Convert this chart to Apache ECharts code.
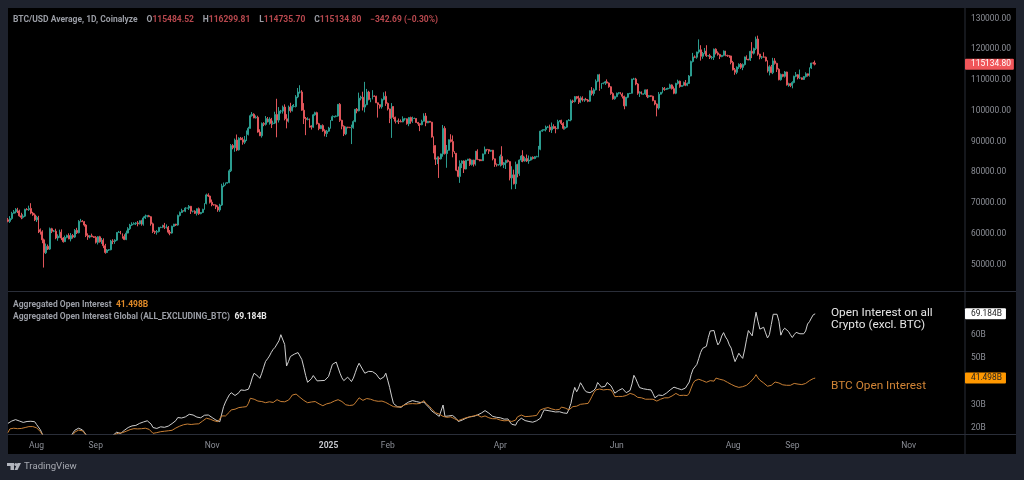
<!DOCTYPE html>
<html>
  <head>
    <meta charset="utf-8" />
    <title>BTC/USD and Aggregated Open Interest</title>
    <script src="https://cdn.jsdelivr.net/npm/echarts@6/dist/echarts.min.js"></script>
    <style>
      html, body { margin: 0; padding: 0; background: #1e222d; }
    </style>
  </head>
  <body>
    <div id="main" style="width: 1024px; height: 480px"></div>
    <script type="text/javascript">
      // daily bars, Jul 17 2024 onward, one row per month. prices in thousands of USD
      var firstDay = "2024-07-17";
      var emptyDays = 78; // room on the right of the last bar
      var firstOpen = 64.6;
      var closes = [
        64.1,65.0,66.7,67.2,68.0,67.5,65.9,65.4,65.8,68.0,67.9,68.3,66.8,66.2,64.6,
        65.4,61.4,60.7,58.1,53.9,56.0,55.1,61.7,60.9,60.9,58.7,59.3,60.6,58.7,57.5,58.9,59.5,58.4,59.5,59.0,61.2,60.4,64.1,64.2,64.0,62.9,59.5,59.0,59.4,59.1,58.9,
        57.3,59.1,57.5,58.0,56.2,54.0,54.8,54.9,57.7,57.6,58.0,60.5,60.6,60.0,59.2,58.2,60.3,61.7,62.9,63.2,63.4,63.6,63.3,64.3,63.2,65.2,65.8,65.9,65.6,63.3,
        60.8,60.6,60.8,62.1,62.1,62.8,62.2,62.2,60.6,60.3,62.5,63.2,62.9,66.0,67.0,67.6,67.4,68.4,68.4,69.0,67.4,67.4,66.7,68.2,66.6,67.0,68.0,69.9,72.7,72.3,70.3,
        69.5,69.4,68.8,67.8,69.4,75.6,75.9,76.5,76.7,80.5,88.7,88.0,90.5,87.3,91.1,90.6,89.8,90.5,92.3,94.3,98.4,98.9,97.7,97.9,93.1,91.9,95.9,95.6,97.5,96.4,
        97.3,95.9,96.0,98.8,97.0,99.9,99.9,101.2,97.4,96.6,101.2,100.0,101.4,101.4,104.5,106.1,106.1,100.2,97.5,97.2,97.3,95.1,94.7,98.7,99.4,95.8,94.2,95.2,93.5,92.6,93.4,
        94.4,96.9,98.1,98.2,98.3,102.1,96.9,95.0,92.5,94.7,94.6,94.5,94.5,96.5,100.5,100.0,104.1,104.4,101.2,102.0,106.1,103.7,103.9,104.8,104.7,102.6,102.0,101.3,103.7,104.7,102.4,
        100.6,97.5,101.4,97.9,96.6,96.6,96.5,96.4,97.4,97.4,95.8,97.8,96.6,97.5,97.5,96.2,95.8,95.5,96.6,98.3,96.1,96.6,96.3,91.5,88.7,84.3,84.7,84.4,
        86.0,94.3,86.1,87.2,90.6,90.0,86.8,86.2,80.7,78.7,82.9,83.7,81.1,83.9,84.3,82.6,84.0,82.7,86.9,84.2,84.1,83.8,86.0,87.5,87.4,86.9,87.2,84.4,82.6,82.4,82.5,
        85.2,82.5,83.1,83.9,83.5,78.2,79.2,76.3,82.6,79.6,84.0,85.3,83.7,84.5,83.7,84.0,84.9,84.5,85.1,85.1,87.5,93.4,93.7,93.9,94.7,94.7,93.8,94.9,94.3,94.2,
        96.5,96.9,95.9,94.3,94.7,96.8,97.0,103.2,103.0,104.6,104.1,102.8,104.2,103.5,103.7,103.5,103.1,106.5,105.6,106.8,109.6,111.7,107.3,108.9,109.0,109.4,109.0,107.8,105.6,103.9,104.6,
        105.7,105.9,105.4,104.7,101.6,104.4,105.6,105.7,110.3,110.3,108.7,105.7,106.1,105.4,105.5,106.8,104.6,104.9,104.7,103.3,102.2,100.9,105.4,106.0,107.3,106.9,107.1,107.3,108.4,107.2,
        105.7,108.9,109.6,107.9,108.2,109.2,108.3,108.9,111.3,116.0,117.5,117.4,119.1,119.8,117.7,118.6,119.4,117.9,117.9,117.3,117.4,120.0,118.8,118.3,117.6,118.0,119.4,118.0,117.9,117.8,115.7,
        113.3,112.5,114.2,115.1,114.1,115.0,117.5,116.7,116.5,119.3,118.7,120.2,123.3,118.4,117.4,117.5,117.4,116.2,112.9,114.3,112.4,116.2,115.4,113.5,110.1,111.8,111.2,112.6,108.4,108.8,108.2,
        109.2,111.2,111.7,110.7,110.7,110.2,111.1,112.0,111.5,113.9,115.5,115.48452,115.1348
      ];
      // wick length above the body
      var upperWicks = [
        .6,.8,.5,.6,.4,.5,.4,1.0,.6,.2,.4,.9,1.7,.4,.5,
        .5,.5,.4,.5,.4,.9,.6,.4,.3,.4,.8,.6,.8,.9,.3,.6,.3,.7,.8,.5,.4,.8,.4,.7,.3,.2,.3,.7,.2,.7,.2,
        .4,.2,.3,.7,.6,.6,.3,.2,.4,.6,.3,.1,.4,.4,.2,.7,.8,.5,.4,.6,.4,.3,.6,.1,.3,.5,.5,.2,.3,.2,
        .4,.3,.5,.2,.3,.2,.8,.9,.4,.7,.2,.1,.1,.3,.3,.6,.1,.3,.1,.4,.1,.1,.3,.1,.4,.1,.2,.1,.4,.5,.2,
        .9,.2,.2,.5,.4,.7,.8,.2,.1,.5,.5,.5,.5,1.8,.3,.4,.8,1.3,1.3,.5,.4,.7,.3,.6,.5,.9,.3,.4,.8,.5,
        .6,.4,.8,.9,5.1,1.3,.4,.5,.9,1.5,.5,1.4,.5,.8,.6,1.3,2.2,.6,2.3,.5,.6,.2,.2,.3,.3,.3,.3,.2,.4,.5,.4,
        .4,.1,.4,.1,.2,.1,.4,.2,.3,.2,.1,.2,1.0,.4,.1,.4,1.8,.5,1.8,7.4,1.0,.4,.2,1.9,.2,.2,.1,.1,.3,1.3,1.6,
        .3,.1,1.1,.1,.2,.3,.9,.7,.8,.3,.1,.2,.3,.6,.3,.1,.2,.1,.5,.9,1.0,.1,.1,.1,.2,.1,.5,.5,
        .1,1.1,.7,1.7,.1,1.8,2.0,.1,.1,1.2,1.0,.2,.2,.2,.1,.2,.1,.1,.1,.6,.1,.1,.1,.9,.1,.1,.1,.1,.1,.3,.2,
        .6,3.3,.3,.2,.3,.1,2.8,1.7,.9,.2,.2,.3,1.9,.6,1.3,1.5,.2,.3,.2,.3,1.1,.1,.3,.1,.5,.4,.8,1.3,.7,.7,
        .6,.1,.2,.4,.3,.1,.3,.5,.4,.2,.2,.8,.5,.5,.2,.5,.3,.1,1.2,.5,.6,.1,.3,.1,.2,.3,.8,.2,.2,.4,.3,
        .2,.2,.2,.5,.2,.1,.1,.1,.1,.4,.4,.3,.2,.2,.1,.1,.2,.2,.1,.2,.1,.2,.7,.1,.4,.4,.3,.2,.4,.2,
        .7,.2,.5,.2,.1,.3,.8,.3,.3,.3,1.3,.5,.1,3.4,1.5,.5,1.0,1.9,.2,.6,.4,.2,.3,.5,.2,.1,.2,.1,.2,.1,.1,
        .5,.6,.2,.3,.4,.4,.1,.5,.2,.2,3.0,.3,.8,1.1,.1,.3,1.5,.2,.2,.5,.6,1.0,.9,.2,.3,.3,.2,.3,.1,.3,.2,
        .4,.2,.9,.2,2.7,.1,.2,.5,.1,.2,.1,.3,.82
      ];
      // wick length below the body
      var lowerWicks = [
        .3,.5,.4,.1,.5,.7,.3,.6,.4,.3,.2,.4,.4,.3,.4,
        .7,1.1,.9,1.1,4.8,.4,.3,.3,.6,.3,.4,.9,.5,.7,.3,.1,.3,.1,.8,.5,.3,.4,.2,.3,.1,.5,.5,.9,.4,.1,.2,
        .4,.7,.3,.7,.8,.4,.2,.3,.2,.9,.8,.3,.1,.1,.7,.2,.2,.1,.4,.3,.1,.5,.8,.2,.5,.5,.3,.4,.1,.6,
        .5,.6,.8,.3,.2,.2,.6,.4,.5,.7,.2,.2,.3,.2,.3,.2,.1,.3,.1,.6,.9,.4,.2,.7,.4,.2,.2,.1,.3,.3,.4,
        .5,.2,.7,.6,.6,.3,.4,.1,.1,.2,.4,.5,1.3,.4,.2,.1,.8,.6,.3,.3,.1,.3,.1,.2,.2,.1,.6,.6,.4,.2,
        .9,1.5,.4,.3,5.6,.8,.8,.8,.5,2.3,.4,.6,.2,.3,.3,.4,.5,.2,1.8,5.1,.3,.6,.8,.2,.3,.3,.5,.1,.3,.9,1.1,
        .2,.2,.2,.3,.3,.2,.5,1.0,.7,.4,.3,.1,5.3,.3,.2,.8,.2,.7,1.1,1.7,.2,.3,.9,.2,.2,.1,4.2,.6,.6,.3,.8,
        .5,1.5,6.3,.6,.7,.3,.8,.1,.1,.6,.3,.8,.8,.5,.1,.1,.7,2.1,.2,.1,1.1,.1,.1,.2,2.5,1.9,1.6,6.2,
        .2,.9,.3,4.6,.1,.3,1.9,.2,.3,.3,2.1,1.5,1.3,.1,.1,.5,.4,.8,.5,.2,.5,.1,.1,.1,.6,.9,.2,.5,.8,.5,.2,
        .6,.3,1.1,2.0,.3,.8,3.7,.2,1.7,1.2,.7,.6,.4,.2,.3,.9,.2,.3,.2,.2,.2,.3,.2,.1,.6,.3,.7,1.0,.2,1.5,
        .2,.2,.5,.4,.4,.3,.1,.4,.5,.3,.4,.6,.3,.5,.6,.1,.3,.2,.6,.7,.2,.3,.8,.2,.3,.6,.1,.3,.4,.3,.3,
        .2,.4,.1,.7,1.1,.1,.3,.2,.1,.2,.4,.5,1.2,.1,.2,.3,.5,.3,.2,.2,.4,2.7,.5,.1,.3,.4,.1,.2,.1,.3,
        .3,.3,.4,.4,.1,.2,.3,.3,.2,.1,.3,.3,.5,.5,1.4,.8,.2,.4,.3,.5,.6,.9,.5,.4,.8,.2,.3,.3,.4,.6,.6,
        .2,.8,.6,.6,.5,.9,.3,.2,.1,.3,1.6,.4,.5,.5,.7,.6,.1,.2,.5,1.4,.2,.5,.4,.9,.2,.3,.3,.4,.2,.6,.5,
        .9,.3,.3,.5,.4,.1,.2,.3,.4,.4,.3,.4,.39
      ];
      // open interest in billions of USD
      var btcOI = [
        18.0,19.6,19.9,19.9,19.8,19.7,19.9,19.8,19.9,20.2,20.4,20.6,20.6,20.6,20.4,
        20.1,19.6,18.4,17.2,16,15,14.5,14.5,15,15,15,15,15,15,15,15,15,15,15.5,17,18.2,18.9,19.1,19.1,18.8,18.0,17.0,15.5,14.5,14,14,
        14,14,14,14,14,14,14.5,15,15.5,16.2,17.2,18.0,17.8,17.6,18.0,18.3,18.6,19.1,19.3,19.5,19.7,19.6,19.6,19.8,19.7,19.8,19.9,19.8,19.4,18.8,
        17.7,17.6,18.0,18.3,18.4,18.3,18.6,18.7,18.8,18.9,19.0,19.6,20.0,20.6,20.8,21.2,21.4,21.6,21.7,21.7,21.5,21.6,21.7,21.6,21.8,22.4,23.0,23.6,24.2,24.1,23.8,
        23.4,23.1,22.9,22.7,22.7,25.2,25.0,25.2,25.6,26.8,27.8,27.9,28.1,28.4,28.8,28.9,29.0,29.1,29.2,30.6,32.8,32.6,32.4,32.1,31.6,31.8,31.4,31.0,30.9,31.2,
        31.3,31.1,31.0,31.6,32.2,31.9,31.4,31.6,31.3,31.3,32.0,33.0,34.2,34.9,34.6,33.8,33.2,32.4,31.9,31.2,30.9,31.0,31.2,31.8,31.4,30.9,30.4,30.0,29.6,29.9,30.4,
        30.6,30.8,31.2,31.6,32.1,32.2,32.1,31.4,30.6,30.0,29.7,29.7,29.6,29.9,30.8,31.6,33.0,32.2,31.9,32.4,32.7,32.6,32.4,32.0,31.8,31.6,31.5,31.4,31.6,31.4,31.0,
        30.6,30.1,29.5,29.2,29.0,29.0,28.9,29.2,29.8,30.0,30.4,30.4,30.3,30.5,30.6,30.4,30.5,30.6,31.0,31.8,30.6,29.8,29.2,28.2,27.4,26.6,26.3,26.0,
        25.4,25.0,25.6,24.6,25.0,24.8,24.4,24.0,23.6,23.2,23.3,23.8,24.0,24.4,24.2,24.8,24.5,25.2,24.8,25.6,25.2,24.7,24.8,25.2,24.9,24.4,24.2,24.0,23.8,24.0,23.6,
        23.4,23.6,23.1,22.9,23.2,23.2,22.8,22.4,23.4,24.8,25.4,25.6,25.0,24.9,25.0,25.0,25.1,25.2,25.2,25.4,26.2,27.8,27.6,28.4,29.2,28.8,28.4,28.2,28.0,27.8,
        27.6,28.0,29.0,29.2,28.6,28.0,27.8,28.0,29.2,29.4,29.4,29.6,30.2,30.4,30.4,30.5,30.6,32.0,33.6,35.2,36.4,37.1,36.8,36.6,36.4,36.8,36.6,36.4,36.4,35.2,33.5,
        33.4,33.6,33.8,33.6,33.8,34.0,34.6,34.9,34.6,34.4,33.6,33.2,32.8,33.0,32.6,32.4,32.2,32.4,32.6,32.4,32.0,31.6,32.0,32.4,32.8,33.0,33.4,33.0,33.4,33.8,
        34.4,34.9,34.6,34.0,34.0,34.1,34.0,34.0,35.0,37.2,39.2,40.4,41.1,41.0,40.8,40.4,40.0,39.7,39.9,40.4,39.7,40.2,41.5,40.8,41.0,40.8,40.6,40.2,39.7,39.4,38.8,
        38.4,38.0,37.8,37.5,37.5,37.8,38.2,38.4,39.0,39.8,40.4,41.6,43.0,41.6,40.6,40.0,39.4,38.6,38.0,37.8,38.4,39.0,39.8,40.4,39.4,38.8,38.6,38.6,38.4,38.4,38.4,
        38.5,39.2,39.3,38.9,38.7,38.7,38.7,39.2,39.8,40.4,40.9,41.3,41.498
      ];
      var altOI = [
        22.0,22.4,23.0,23.7,23.6,23.2,23.0,22.6,22.4,22.5,22.8,22.7,22.9,22.8,22.7,
        21.5,20.8,19.2,17.4,16,14,14,15,15,15,15,15,15,15,15,15,15,15,16.5,17.8,19,19.8,19.9,19.9,19.2,18.2,17,15,14,14,14,
        14,14,14,14,14,15,15,15.5,16,16.8,17.6,18.2,17.8,17.6,18.3,19,19.6,20.2,20.6,20.9,20.5,21.1,21.8,22,21.9,22.6,23,23.1,22.8,21.7,
        20.2,19.9,19.8,20.4,20.5,20.1,20.3,20.3,20.8,21.2,21.9,22.5,23.2,24.5,24.1,24.3,24.4,24.8,25.5,25.9,25.5,25.6,25.2,24.7,24.2,24.4,24.9,25.5,25.9,25.6,25.0,
        24.5,23.9,23.4,23.0,22.7,26,29.2,31.2,32.8,34.3,35.2,34.5,34,33.4,35.2,36.4,36.6,36.2,35.8,36.7,38.8,41.6,43.6,43.2,42.3,41.4,43.6,46.2,48.7,49.8,
        51.0,52.6,53.9,54.8,55.2,57.6,60.2,60.4,56.0,46.7,48.6,50.8,51.2,51.8,51.4,52.5,52.2,49.5,46.2,42.6,39.7,39.2,41.2,42.6,42.0,40.3,40.8,40.4,40.7,40.5,40.7,
        42.2,44.8,47.4,48.2,48.4,48.0,43.6,41.6,40.4,41.2,41.9,41.0,40.0,41.5,43.8,46.2,47.9,47.2,45.0,43.6,44.2,44.4,44.2,44.3,44.3,43.2,42.0,41.0,40.4,42.0,43.6,
        40.6,37.5,33.8,30.6,29.8,29.2,29.0,28.9,29.5,30.2,30.6,31.2,31.3,31.8,31.2,31.4,31.1,31.0,30.9,31.2,30.2,29.4,28.5,27.4,27.0,26.2,25.6,25.0,
        25.4,29.9,25.0,25.4,25.2,25.6,25.4,25.2,24.0,22.8,23.0,23.4,23.8,24.2,24.3,24.8,24.6,25.0,25.2,25.6,25.8,26.4,27.2,27.5,27.4,26.4,25.6,25.0,25.2,24.6,24.8,
        24.4,24.5,23.8,23.4,23.9,22.6,21.6,20.9,21.2,22.8,23.2,24.2,23.6,23.2,22.9,22.8,22.6,22.5,22.7,23.1,23.7,24.2,26.2,27.8,27.6,27.5,27.4,27.2,27.1,26.9,
        26.8,27.0,26.6,26.5,26.4,26.3,28.2,30.6,34.6,37.5,35.6,37.2,39.5,38.2,36.6,35.6,35.0,35.2,35.1,36.2,37.2,39.6,38.6,37.6,37.0,38.0,39.6,39.2,38.2,36.6,35.0,
        35.2,36.2,36.8,37.0,36.6,35.2,34.6,36.2,39.0,42.7,41.2,39.2,37.4,36.7,36.9,36.4,36.6,36.8,36.4,34.8,33.0,32.4,34.2,33.8,34.0,34.3,35.0,35.8,36.4,37.0,
        37.6,37.8,37.0,36.4,36.5,36.7,37.2,37.8,39.8,43.0,45.3,46.0,47.4,50.0,52.6,54.3,54.4,55.2,59.0,61.8,62.2,62.0,58.4,55.8,57.0,59.6,61.1,59.2,58.0,55.8,54.4,
        51.2,48.6,50.4,52.2,51.0,50.0,53.6,58.0,62.0,61.4,59.7,65.2,69.9,66.0,62.6,63.2,63.4,61.0,58.8,60.2,64.6,69.0,69.2,69.0,66.0,60.0,62.0,63.0,63.4,61.6,60.2,
        59.0,60.2,61.2,61.6,60.6,60.0,60.6,61.8,64.8,65.8,67.4,68.8,69.184
      ];
      var tickDates = ["2024-08-01","2024-09-01","2024-11-01","2025-01-01","2025-02-01","2025-04-01","2025-06-01","2025-08-01","2025-09-01","2025-11-01"];
      var tickLabels = ["Aug","Sep","Nov","2025","Feb","Apr","Jun","Aug","Sep","Nov"];
      var priceTicks = [50, 60, 70, 80, 90, 100, 110, 120, 130];
      var oiTicks = [20, 30, 50, 60];

      var font = "Roboto, sans-serif";
      var grey = "#8b8e96";
      var paneLine = "#2a2e39";

      var dates = [];
      var day = new Date(firstDay + "T00:00:00Z");
      for (var i = 0; i < closes.length + emptyDays; i++) {
        dates.push(day.toISOString().split("T")[0]);
        day.setUTCDate(day.getUTCDate() + 1);
      }

      // echarts wants [open, close, low, high]
      var candles = [];
      for (var j = 0; j < closes.length; j++) {
        var o = j === 0 ? firstOpen : closes[j - 1];
        var c = closes[j];
        candles.push([o, c, Math.min(o, c) - lowerWicks[j], Math.max(o, c) + upperWicks[j]]);
      }

      var lastPrice = closes[closes.length - 1];
      var lastBtc = btcOI[btcOI.length - 1];
      var lastAlt = altOI[altOI.length - 1];

      function lastValueTag(value, text, bg, fg, rightPad) {
        return {
          silent: true,
          symbol: "none",
          animation: false,
          lineStyle: { width: 1, color: "rgba(0,0,0,0)" },
          label: {
            position: "end",
            distance: 0,
            formatter: text,
            backgroundColor: bg,
            color: fg,
            fontFamily: font,
            fontSize: 8.4,
            padding: [2, rightPad, 1, 6],
            borderRadius: 1,
          },
          data: [{ yAxis: value }],
        };
      }

      var myChart = echarts.init(document.getElementById("main"), null, { renderer: "canvas" });

      var option = {
        animation: false,
        backgroundColor: "#1e222d",
        textStyle: { fontFamily: font },
        graphic: [
          { type: "rect", z: -1, shape: { x: 8, y: 8, width: 1008, height: 446 }, style: { fill: "#000" } },
          { type: "line", shape: { x1: 965, y1: 8, x2: 965, y2: 454 }, style: { stroke: paneLine, lineWidth: 1 } },
          { type: "line", shape: { x1: 8, y1: 291.5, x2: 1016, y2: 291.5 }, style: { stroke: paneLine, lineWidth: 1 } },
          { type: "line", shape: { x1: 8, y1: 434.5, x2: 1016, y2: 434.5 }, style: { stroke: paneLine, lineWidth: 1 } },
          // TradingView mark
          { type: "polygon", shape: { points: [[7, 463], [14, 463], [14, 470], [10.5, 470], [10.5, 466], [7, 466]] }, style: { fill: "#b2b5be" } },
          { type: "circle", shape: { cx: 15.8, cy: 464.5, r: 1.5 }, style: { fill: "#b2b5be" } },
          { type: "polygon", shape: { points: [[17.5, 463], [21, 463], [17.5, 470], [14.5, 470]] }, style: { fill: "#b2b5be" } },
        ],
        title: [
          {
            left: 13, top: 11, padding: 0,
            text: "{g|BTC/USD Average, 1D, Coinalyze}  {g|O}{r|115484.52}  {g|H}{r|116299.81}  {g|L}{r|114735.70}  {g|C}{r|115134.80}  {r|\u2212342.69 (\u22120.30%)}",
            textStyle: {
              rich: {
                g: { color: "#9a9da5", fontSize: 8.5, fontFamily: font },
                r: { color: "#b8484e", fontSize: 8.5, fontFamily: font },
              },
            },
          },
          {
            left: 13, top: 296, padding: 0,
            text: "{g|Aggregated Open Interest} {o|41.498B}",
            textStyle: {
              rich: {
                g: { color: "#9a9da5", fontSize: 8.5, fontFamily: font },
                o: { color: "#e08a28", fontSize: 8.5, fontFamily: font, fontWeight: "bold" },
              },
            },
          },
          {
            left: 13, top: 308, padding: 0,
            text: "{g|Aggregated Open Interest Global (ALL_EXCLUDING_BTC)} {w|69.184B}",
            textStyle: {
              rich: {
                g: { color: "#9a9da5", fontSize: 8.5, fontFamily: font },
                w: { color: "#e8e8e8", fontSize: 8.5, fontFamily: font, fontWeight: "bold" },
              },
            },
          },
          {
            left: 831, top: 307, padding: 0,
            text: "Open Interest on all\nCrypto (excl. BTC)",
            textStyle: { color: "#e6e6e6", fontSize: 11.8, lineHeight: 12, fontFamily: font, fontWeight: "normal" },
          },
          {
            left: 831, top: 380, padding: 0,
            text: "BTC Open Interest",
            textStyle: { color: "#d08436", fontSize: 11.8, fontFamily: font, fontWeight: "normal" },
          },
          {
            left: 24, top: 462, padding: 0,
            text: "TradingView",
            textStyle: { color: "#a6a9b1", fontSize: 9.6, fontFamily: font, fontWeight: "normal" },
          },
        ],
        grid: [
          { left: 7, width: 958, top: 8, height: 283 },
          { left: 7, width: 958, top: 292, height: 142 },
        ],
        xAxis: [
          {
            type: "category",
            gridIndex: 0,
            data: dates,
            axisLine: { show: false },
            axisTick: { show: false },
            axisLabel: { show: false },
            splitLine: { show: false },
          },
          {
            type: "category",
            gridIndex: 1,
            data: dates,
            axisLine: { show: false },
            axisTick: { show: false },
            splitLine: { show: false },
            axisLabel: {
              color: grey,
              fontSize: 8.5,
              margin: 7,
              fontFamily: font,
              interval: function (index, value) {
                return tickDates.indexOf(value) !== -1;
              },
              formatter: function (value) {
                var label = tickLabels[tickDates.indexOf(value)];
                return label === "2025" ? "{y|2025}" : label;
              },
              rich: { y: { color: "#c4c6cc", fontSize: 8.5, fontWeight: "bold", fontFamily: font } },
            },
          },
        ],
        yAxis: [
          {
            type: "value",
            gridIndex: 0,
            position: "right",
            min: 41.49,
            max: 133.38,
            splitLine: { show: false },
            axisLine: { show: false },
            axisTick: { show: false },
            axisLabel: {
              color: grey,
              fontSize: 8.4,
              margin: 6,
              padding: [2, 0, 0, 0],
              fontFamily: font,
              customValues: priceTicks,
              formatter: function (v) {
                return (v * 1000).toFixed(2);
              },
            },
          },
          {
            type: "value",
            gridIndex: 1,
            position: "right",
            min: 17.41,
            max: 78.6,
            splitLine: { show: false },
            axisLine: { show: false },
            axisTick: { show: false },
            axisLabel: {
              color: grey,
              fontSize: 8.4,
              margin: 6,
              padding: [2, 0, 0, 0],
              fontFamily: font,
              customValues: oiTicks,
              formatter: "{value}B",
            },
          },
        ],
        series: [
          {
            name: "BTC/USD",
            type: "candlestick",
            xAxisIndex: 0,
            yAxisIndex: 0,
            barWidth: 1.4,
            data: candles,
            itemStyle: {
              color: "#2b9c8f",
              color0: "#e0555a",
              borderColor: "#2b9c8f",
              borderColor0: "#e0555a",
              borderWidth: 1,
            },
            markLine: lastValueTag(lastPrice, (lastPrice * 1000).toFixed(2), "#f0565a", "#fff", 3),
          },
          {
            name: "Aggregated Open Interest Global",
            type: "line",
            xAxisIndex: 1,
            yAxisIndex: 1,
            showSymbol: false,
            data: altOI,
            lineStyle: { color: "#cfcfcf", width: 1 },
            markLine: lastValueTag(lastAlt, lastAlt.toFixed(3) + "B", "#ffffff", "#222", 4),
          },
          {
            name: "Aggregated Open Interest",
            type: "line",
            xAxisIndex: 1,
            yAxisIndex: 1,
            showSymbol: false,
            data: btcOI,
            lineStyle: { color: "#c77f35", width: 1 },
            markLine: lastValueTag(lastBtc, lastBtc.toFixed(3) + "B", "#ff9800", "#222", 4),
          },
        ],
      };

      myChart.setOption(option);
    </script>
  </body>
</html>
